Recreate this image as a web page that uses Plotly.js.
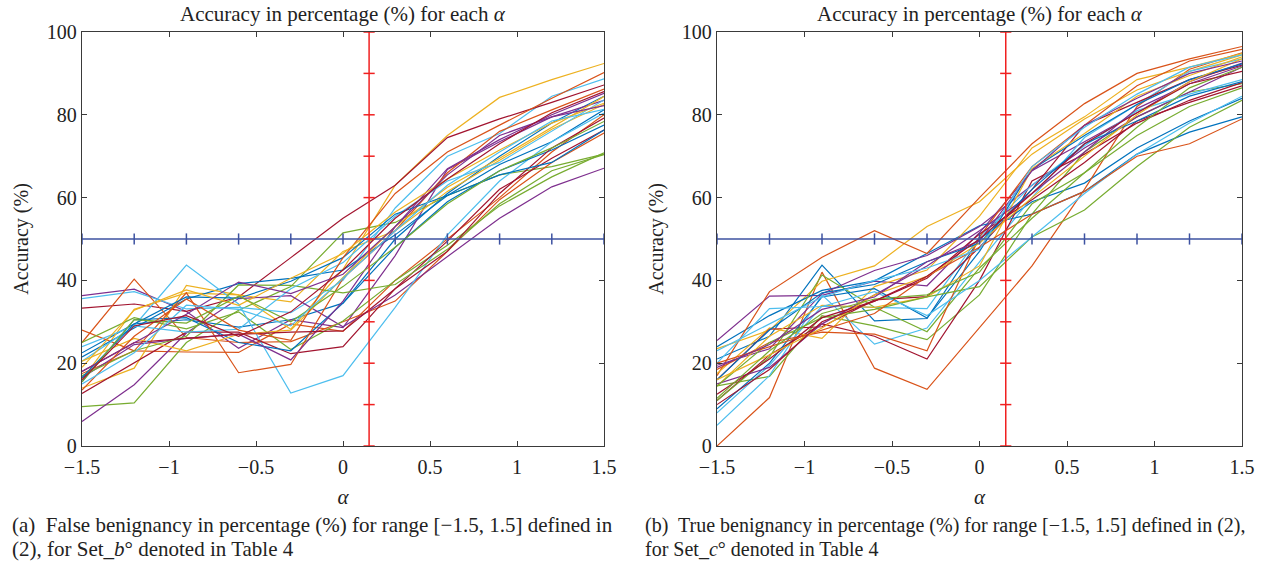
<!DOCTYPE html>
<html>
<head>
<meta charset="utf-8">
<script src="https://cdn.plot.ly/plotly-3.0.1.min.js"></script>
<style>html,body{margin:0;padding:0;background:#fff;}#chart{width:1263px;height:569px;}</style>
</head>
<body>
<div id="chart"></div>
<script>
// x positions (alpha values)
const alphas = [-1.5, -1.2, -0.9, -0.6, -0.3, 0, 0.3, 0.6, 0.9, 1.2, 1.5];
const xTickVals = [-1.5, -1, -0.5, 0, 0.5, 1, 1.5];
const xTickText = ['\u22121.5', '\u22121', '\u22120.5', '0', '0.5', '1', '1.5'];
const yTickVals = [0, 20, 40, 60, 80, 100];
const thresholdY = 50;
const thresholdX = 0.15;
const vMarkerY = [0, 10, 20, 30, 40, 50, 60, 70, 80, 90, 100];

const panelTitle = 'Accuracy in percentage (%) for each <i>\u03b1</i>';
const xLabel = '<i>\u03b1</i>';
const yLabel = 'Accuracy (%)';
const captionA1 = '(a)  False benignancy in percentage (%) for range [\u22121.5, 1.5] defined in';
const captionA2 = '(2), for Set_<i>b</i>\u00b0 denoted in Table 4';
const captionB1 = '(b)  True benignancy in percentage (%) for range [\u22121.5, 1.5] defined in (2),';
const captionB2 = 'for Set_<i>c</i>\u00b0 denoted in Table 4';

// MATLAB default colour order
const colorOrder = ['#0072BD', '#D95319', '#EDB120', '#7E2F8E', '#77AC30', '#4DBEEE', '#A2142F'];

// Panel (a): False benignancy, Set_b
const seriesA = [
  [22.5, 29.5, 30.5, 28.7, 30.5, 34.5, 50, 61, 70, 78, 84.5],
  [28, 23, 22.7, 22.6, 29.5, 27.7, 40, 50, 60, 71, 80],
  [16, 33, 37, 36.5, 28.2, 42.7, 63, 75, 84.2, 88.5, 92.4],
  [36.3, 37.9, 32.5, 23.6, 30.5, 28.6, 46, 66.8, 73.5, 79.5, 83.5],
  [9.5, 10.4, 25, 32.8, 38.5, 51.5, 54, 60.5, 65.5, 67.5, 70.5],
  [35.6, 37.3, 33.1, 33.5, 32.2, 40, 57.5, 70, 75.5, 84.5, 88.7],
  [33.3, 34.3, 32.5, 36, 45.5, 55, 63, 74.5, 79, 83, 87.2],
  [21.5, 28.5, 35.5, 39.2, 40.5, 42.5, 51, 60.5, 68, 73.5, 81.2],
  [25, 40.3, 26.2, 25, 25.2, 30, 35, 47, 59.5, 68.5, 75.6],
  [14, 18.8, 38.8, 36.5, 34.8, 47, 52, 61.5, 69, 76.5, 82.5],
  [5.9, 14.8, 27.3, 35.6, 36.3, 28.8, 36.5, 45.8, 55, 62.6, 67.1],
  [25, 31, 28.3, 32.4, 23.3, 30.2, 40, 48.5, 58, 65, 70.8],
  [20.5, 29, 43.7, 34.3, 12.8, 17, 33.5, 51, 64, 73.5, 80.4],
  [12.7, 20, 27.5, 27.5, 22.3, 24, 38, 49.5, 62, 69.5, 76.3],
  [15.5, 30.5, 31, 25, 23, 34.5, 48, 59, 66.5, 71.5, 77.5],
  [17.5, 23, 37, 17.7, 19.7, 40.5, 52, 66, 76, 81.2, 86.2],
  [20.5, 26, 23, 27, 28, 40.7, 53, 62.5, 69.5, 77, 84.4],
  [16.5, 24.5, 26, 27, 20.8, 35, 53, 67, 74, 80, 85.2],
  [17, 23, 26.5, 38.9, 38.8, 37, 39, 47.5, 58.5, 66.5, 70.4],
  [24, 29, 27.5, 28.2, 38, 44.3, 55.5, 64, 68.5, 76, 83.6],
  [18, 25, 26, 27, 27.5, 27.8, 38, 47, 61, 72, 79.2],
  [16.5, 29.5, 36, 35.7, 39.8, 45.5, 56, 60.5, 65.5, 68.5, 76.3],
  [13.5, 26.5, 35.5, 28, 25.5, 45.5, 61, 71, 77.5, 84, 90.2],
  [19, 32.8, 37.7, 34, 40.5, 46.5, 56.5, 64.5, 71.5, 78, 82.8],
  [18, 25, 31.8, 39.6, 36.8, 41.5, 53, 65.5, 75, 79.5, 82.2],
  [15.5, 30.5, 29.7, 36.2, 30, 38.5, 48, 58.5, 66.5, 72, 78.4],
  [15, 22.5, 34, 33, 29, 40.5, 52, 63, 71, 78.5, 81.3],
  [16, 29, 31.5, 26.5, 32.4, 42.5, 55, 64.5, 73, 80.5, 85.6]
];

// Panel (b): True benignancy, Set_c
const seriesB = [
  [21, 26.5, 43.7, 30.2, 30.8, 50, 59, 63.5, 72, 78.5, 84],
  [0, 11.7, 42, 18.8, 13.7, 28.7, 43.5, 62, 82, 91, 95],
  [23.5, 28, 39.8, 43.5, 53, 59, 70.5, 79, 86, 90.5, 94.5],
  [25.5, 36.2, 36.4, 39.8, 38.7, 51.5, 66.5, 73.5, 80.5, 88, 92.5],
  [14.5, 16.8, 31.5, 29, 25.7, 36.5, 56, 71, 79.5, 85.5, 87.5],
  [5, 17, 36.5, 24.6, 28.5, 44.5, 60, 74.5, 82.5, 90.5, 93.5],
  [11, 22, 29.5, 26.5, 21, 40, 64, 70.5, 78, 83.5, 87.8],
  [24, 31.5, 37.6, 39.9, 46.5, 53.2, 56, 61.5, 70.5, 75.8, 79.5],
  [17, 37.3, 45.6, 52, 46.5, 60, 73, 82.7, 90, 93.5, 96.5],
  [17.5, 28.5, 26, 38.5, 42.5, 55.5, 72, 79.5, 88.5, 91.5, 94.8],
  [19.5, 23.5, 36.8, 42.4, 46, 53, 63, 72, 79.5, 85.5, 91.5],
  [11, 21.5, 41.3, 33.5, 27.6, 43, 55, 66, 75, 82, 86.5],
  [8, 19.5, 33.8, 33.5, 33.2, 50.5, 63, 72.5, 81, 85, 88.5],
  [16, 28.2, 28.8, 35.3, 36.1, 48, 62, 77.5, 83, 88.5, 92],
  [9, 20, 36, 38, 30.9, 47, 66.8, 75, 82.5, 88.5, 92.3],
  [18.5, 25, 27.5, 27, 23, 50.5, 67.5, 77.5, 87, 93, 95.8],
  [14.5, 26.5, 34, 33.5, 36, 43.5, 67, 75.5, 84.5, 89.5, 94],
  [15, 19, 29.5, 36.5, 43.5, 52, 61, 71, 81.5, 87.5, 91.8],
  [14.5, 25, 31, 33, 36, 38.5, 50.5, 57, 67.5, 77, 83.5],
  [20, 33.2, 33.7, 37.3, 31.5, 40, 50.5, 61, 70.5, 78, 84.5],
  [12.5, 21, 31, 35, 40.5, 51.2, 59.5, 68.5, 78.5, 83, 87],
  [16, 28, 37, 39, 44.5, 49, 62, 73, 78.5, 84.5, 88],
  [20, 24, 28, 32, 41, 48, 56, 61.5, 70, 73, 79],
  [16, 22, 28.5, 36.5, 41, 49, 60, 70, 80, 88, 93.5],
  [19, 24.5, 33, 36, 44.5, 49.5, 66.5, 77.5, 84, 90, 93],
  [11.5, 23, 32, 35.5, 36.5, 42, 58.5, 66, 77, 86.5, 91.5],
  [23, 29.5, 36, 40, 43, 47.5, 67.5, 77, 85, 91.5, 94.5],
  [10, 18.5, 30, 35, 41, 50, 61, 73, 80.5, 87.5, 90.5]
];

const FONT = '"Liberation Serif", "DejaVu Serif", serif';
const AXC = '#3a3a3a';
const TXT = '#222';

const traces = [];
function addPanel(series, xa, ya) {
  series.forEach((vals, i) => {
    traces.push({
      x: alphas, y: vals, xaxis: xa, yaxis: ya, type: 'scatter', mode: 'lines',
      line: {color: colorOrder[i % colorOrder.length], width: 1.2},
      hoverinfo: 'skip', showlegend: false
    });
  });
  traces.push({
    x: alphas, y: alphas.map(() => thresholdY), xaxis: xa, yaxis: ya, type: 'scatter', mode: 'lines+markers',
    line: {color: '#3d52a1', width: 1.5},
    marker: {symbol: 'line-ns', size: 8, line: {color: '#3d52a1', width: 1.5}},
    cliponaxis: false, hoverinfo: 'skip', showlegend: false
  });
  traces.push({
    x: vMarkerY.map(() => thresholdX), y: vMarkerY, xaxis: xa, yaxis: ya, type: 'scatter', mode: 'lines+markers',
    line: {color: '#f02020', width: 1.5},
    marker: {symbol: 'line-ew', size: 8, line: {color: '#f02020', width: 1.5}},
    cliponaxis: false, hoverinfo: 'skip', showlegend: false
  });
}
addPanel(seriesA, 'x', 'y');
addPanel(seriesB, 'x2', 'y2');

const H = 569, W = 1263;
const yDom = [(H - 446) / H, (H - 32) / H];
function xaxisDef(dom, anchor) {
  return {
    domain: dom, anchor: anchor, range: [-1.5, 1.5], tickvals: xTickVals, ticktext: xTickText,
    ticks: 'inside', ticklen: 5, tickwidth: 1, tickcolor: AXC, mirror: 'ticks',
    showline: true, linecolor: AXC, linewidth: 1.2, showgrid: false, zeroline: false,
    ticklabelstandoff: 3,
    tickfont: {family: FONT, size: 20, color: TXT},
    title: {text: xLabel, font: {family: FONT, size: 21, color: TXT}, standoff: 12}
  };
}
function yaxisDef(anchor) {
  return {
    domain: yDom, anchor: anchor, range: [0, 100], tickvals: yTickVals,
    ticks: 'inside', ticklen: 5, tickwidth: 1, tickcolor: AXC, mirror: 'ticks',
    showline: true, linecolor: AXC, linewidth: 1.2, showgrid: false, zeroline: false,
    tickfont: {family: FONT, size: 20, color: TXT},
    title: {text: yLabel, font: {family: FONT, size: 20, color: TXT}, standoff: 12}
  };
}

function cap(text, x, y, size) {
  return {text: text, xref: 'paper', yref: 'paper', x: x / W, y: 1 - y / H, xanchor: 'left', yanchor: 'middle', align: 'left', showarrow: false, font: {family: FONT, size: size, color: TXT}};
}

const layout = {
  width: W, height: H, margin: {l: 0, r: 0, t: 0, b: 0},
  paper_bgcolor: '#fff', plot_bgcolor: '#fff',
  font: {family: FONT, color: TXT},
  xaxis: xaxisDef([82 / W, 604 / W], 'y'),
  yaxis: yaxisDef('x'),
  xaxis2: xaxisDef([717 / W, 1242 / W], 'y2'),
  yaxis2: yaxisDef('x2'),
  annotations: [
    {text: panelTitle, xref: 'paper', yref: 'paper', x: 343 / W, y: 1 - 14 / H, xanchor: 'center', yanchor: 'middle', showarrow: false, font: {family: FONT, size: 21, color: TXT}},
    {text: panelTitle, xref: 'paper', yref: 'paper', x: 980 / W, y: 1 - 14 / H, xanchor: 'center', yanchor: 'middle', showarrow: false, font: {family: FONT, size: 21, color: TXT}},
    cap(captionA1, 10, 525, 21),
    cap(captionA2, 10, 549, 21),
    cap(captionB1, 643, 525, 20),
    cap(captionB2, 643, 549, 20)
  ]
};

Plotly.newPlot('chart', traces, layout, {displayModeBar: false, staticPlot: true});
</script>
</body>
</html>
